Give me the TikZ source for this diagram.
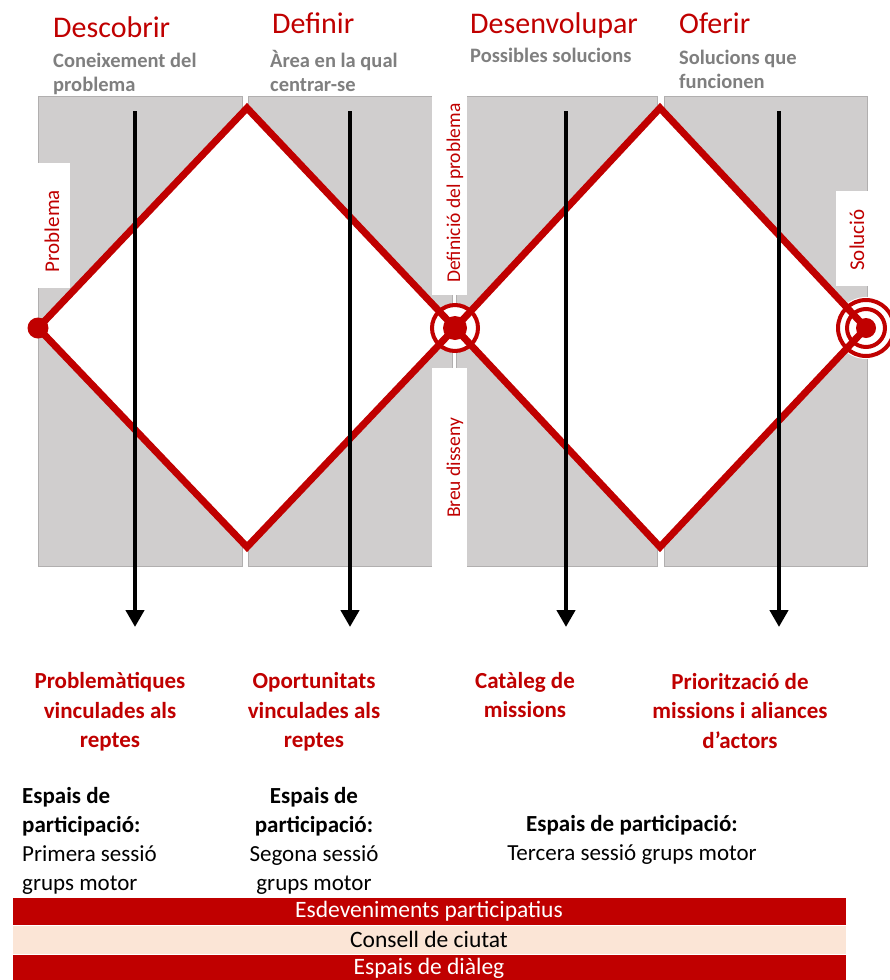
\documentclass[tikz,border=0pt]{standalone}
\usepackage{fontspec}
\setmainfont{Carlito}
\usetikzlibrary{arrows.meta}
\definecolor{myred}{HTML}{C00000}
\definecolor{boxgray}{HTML}{D0CECE}
\definecolor{subgray}{HTML}{7F7F7F}
\definecolor{peach}{HTML}{FBE5D6}
\tikzset{
 hdr/.style={anchor=base west, inner sep=0pt, text=myred, font=\fontsize{30}{36}\selectfont},
 subtxt/.style={anchor=north west, inner sep=0pt, text=subgray, align=left, font=\fontsize{20.5}{24}\selectfont\bfseries},
 vlabel/.style={rotate=90, inner sep=0pt, text=myred, font=\fontsize{19.5}{24}\selectfont},
 vlabelbig/.style={vlabel, font=\fontsize{21}{24}\selectfont},
 outlabel/.style={inner sep=0pt, text=myred, align=center, font=\fontsize{23}{29.5}\selectfont\bfseries},
 parttxt/.style={inner sep=0pt, text=black, font=\fontsize{23}{28.9}\selectfont},
 barbox/.style={anchor=north, minimum width=834pt, inner sep=0pt, draw=white, line width=0.8pt, font=\fontsize{23.5}{28}\selectfont},
 grayrect/.style={fill=boxgray, draw=boxgray!85!black, line width=0.5pt},
 dstroke/.style={draw=myred, line width=7pt, line join=miter},
 arr/.style={line width=4.5pt, -{Triangle[width=18pt,length=17pt]}},
}
\begin{document}
\begin{tikzpicture}[x=1pt,y=-1pt]
\useasboundingbox (0,0) rectangle (890,980);
\fill[white] (0,0) rectangle (890,980);
% gray panels
\path[grayrect] (38,96) rectangle (242,566);
\path[grayrect] (248,96) rectangle (452,566);
\path[grayrect] (456,96) rectangle (657,566);
\path[grayrect] (664,96) rectangle (867,566);
% white cut-outs
\fill[white] (37.5,163) rectangle (70,288);
\fill[white] (432,95) rectangle (467,295);
\fill[white] (432,368) rectangle (467,567);
\fill[white] (836,191) rectangle (868,286);
% diamond corners
\coordinate (L) at (38,328);
\coordinate (T1) at (247,108);
\coordinate (M) at (455,328);
\coordinate (B1) at (247,547);
\coordinate (T2) at (660,108);
\coordinate (R) at (866,328);
\coordinate (B2) at (660,547);
\fill[white] (L) -- (T1) -- (M) -- (B1) -- cycle;
\fill[white] (M) -- (T2) -- (R) -- (B2) -- cycle;
\fill[white] (M) circle (21);
\fill[white] (R) circle (31);
\draw[dstroke] (L) -- (T1) -- (M) -- (B1) -- cycle;
\draw[dstroke] (M) -- (T2) -- (R) -- (B2) -- cycle;
% targets
\fill[myred] (L) circle (10.5);
\draw[myred, line width=4pt] (M) circle (23);
\fill[myred] (M) circle (12);
\draw[myred, line width=4pt] (R) circle (28);
\draw[myred, line width=4pt] (R) circle (19);
\fill[myred] (R) circle (10);
% arrows
\coordinate (a1s) at (135,111); \coordinate (a1e) at (135,627);
\coordinate (a2s) at (350,111); \coordinate (a2e) at (350,627);
\coordinate (a3s) at (566,111); \coordinate (a3e) at (566,627);
\coordinate (a4s) at (779,111); \coordinate (a4e) at (779,627);
\draw[arr] (a1s) -- (a1e);
\draw[arr] (a2s) -- (a2e);
\draw[arr] (a3s) -- (a3e);
\draw[arr] (a4s) -- (a4e);
% headers
\node[hdr] (h1) at (53,37) {Descobrir};
\node[hdr] (h2) at (272,33) {Definir};
\node[hdr] (h3) at (470,33) {Desenvolupar};
\node[hdr] (h4) at (679,33) {Oferir};
\node[subtxt] (s1) at (53,53) {Coneixement del\\problema};
\node[subtxt] (s2) at (270,50) {Àrea en la qual\\centrar-se};
\node[subtxt] (s3) at (470,48) {Possibles solucions};
\node[subtxt] (s4) at (679,50) {Solucions que\\funcionen};
% vertical labels
\node[vlabelbig] (v1) at (52,231) {Problema};
\node[vlabel] (v2) at (455,193) {Definició del problema};
\node[vlabel] (v3) at (455,468) {Breu disseny};
\node[vlabelbig] (v4) at (857,240) {Solució};
% outcomes
\node[outlabel] (o1) at (110,712) {Problemàtiques\\vinculades als\\reptes};
\node[outlabel] (o2) at (314,712) {Oportunitats\\vinculades als\\reptes};
\node[outlabel] (o3) at (525,695) {Catàleg de\\missions};
\node[outlabel] (o4) at (740,711) {Priorització de\\missions i aliances\\d’actors};
% participation
\node[parttxt, anchor=west, align=left] (p1) at (22,841) {\textbf{Espais de}\\\textbf{participació:}\\Primera sessió\\grups motor};
\node[parttxt, align=center] (p2) at (314,841) {\textbf{Espais de}\\\textbf{participació:}\\Segona sessió\\grups motor};
\node[parttxt, align=center] (p3) at (632,840) {\textbf{Espais de participació:}\\Tercera sessió grups motor};
% bars
\node[barbox, fill=myred, text=white, minimum height=28pt] (b1) at (429,897) {Esdeveniments participatius};
\node[barbox, fill=peach, text=black, minimum height=29pt] (b2) at (429,925) {Consell de ciutat};
\node[barbox, fill=myred, text=white, minimum height=28pt] (b3) at (429,954) {Espais de diàleg};
\end{tikzpicture}
\end{document}
